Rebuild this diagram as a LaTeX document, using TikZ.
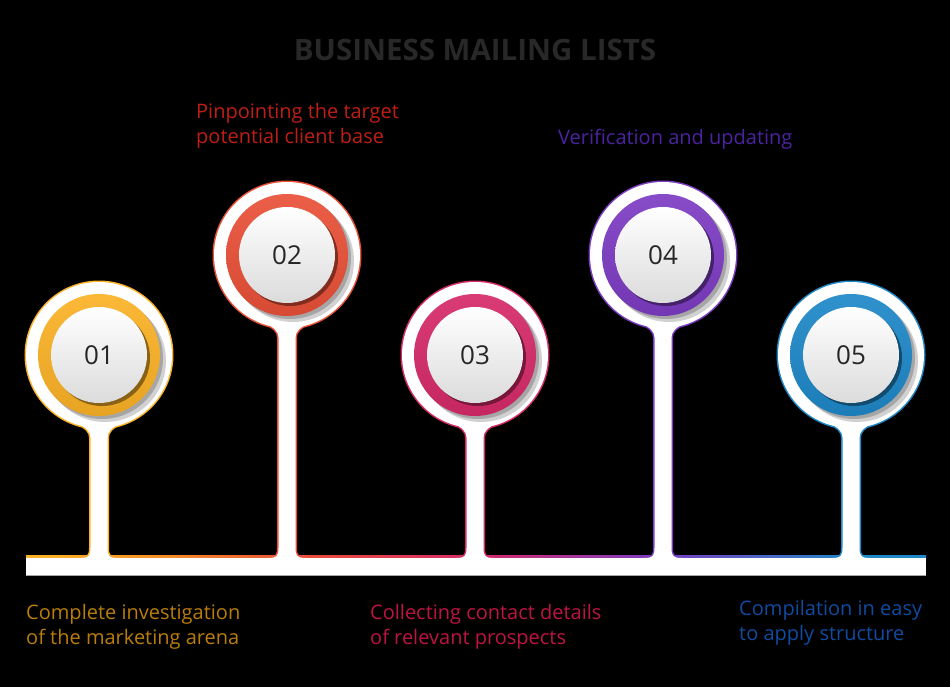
\documentclass[tikz,border=0pt]{standalone}
\usepackage{fontspec}
\setmainfont{Open Sans}
\usepackage{tikz}
\usetikzlibrary{positioning}

\definecolor{stepone}{RGB}{251,178,38}
\definecolor{steponeb}{RGB}{246,140,40}
\definecolor{steptwo}{RGB}{233,80,55}
\definecolor{stepthree}{RGB}{214,42,105}
\definecolor{stepfour}{RGB}{125,60,195}
\definecolor{stepfive}{RGB}{30,136,200}
\definecolor{txtone}{RGB}{185,125,10}
\definecolor{txttwo}{RGB}{190,30,20}
\definecolor{txtthree}{RGB}{190,20,65}
\definecolor{txtfour}{RGB}{75,35,160}
\definecolor{txtfive}{RGB}{15,75,160}
\definecolor{titlegray}{RGB}{40,40,40}

\pgfdeclarehorizontalshading{railshade}{100bp}{color(0bp)=(stepone); color(26bp)=(stepone); color(33bp)=(steponeb); color(40bp)=(steptwo); color(50bp)=(stepthree); color(60bp)=(stepfour); color(71bp)=(stepfive); color(100bp)=(stepfive)}

\tikzset{
  rim/.style={line width=3pt},
  numtext/.style={font=\fontsize{26}{30}\selectfont, text=black!85},
  labeltext/.style={font=\fontsize{20}{25}\selectfont, align=left, inner sep=0pt, anchor=west},
}

\newcommand{\railstem}[2]{({#1-18.5},558) .. controls ({#1-10.5},558) and ({#1-8.5},556) .. ({#1-8.5},548) -- ({#1-8.5},{#2+82.5}) .. controls ({#1-8.5},{#2+76.5}) and ({#1-13},{#2+72.5}) .. ({#1-22},{#2+68}) -- ({#1+22},{#2+68}) .. controls ({#1+13},{#2+72.5}) and ({#1+8.5},{#2+76.5}) .. ({#1+8.5},{#2+82.5}) -- ({#1+8.5},548) .. controls ({#1+8.5},556) and ({#1+10.5},558) .. ({#1+18.5},558) -- ({#1+18.5},564) -- ({#1-18.5},564) -- cycle}

\begin{document}
\begin{tikzpicture}[x=1pt,y=-1pt]
  \useasboundingbox (0,0) rectangle (950,687);
  \fill[black] (0,0) rectangle (950,687);

  \foreach \cx/\cy/\col in {99/355/stepone,287/255/steptwo,475/355/stepthree,663/255/stepfour,851/355/stepfive}{
    \draw[rim, \col] (\cx,\cy) circle[radius=73pt];
    \draw[rim, \col] \railstem{\cx}{\cy};
  }
  \shade[shading=railshade] (26,555.5) rectangle (926,560);
  \foreach \cx/\cy in {99/355,287/255,475/355,663/255,851/355}{
    \fill[white] (\cx,\cy) circle[radius=73pt];
    \fill[white] \railstem{\cx}{\cy};
  }
  \fill[white] (26,558) rectangle (926,575);
  \draw[gray!70, line width=1pt] (26,575) -- (926,575);

  \foreach \cx/\cy/\col/\num in {99/355/stepone/01,287/255/steptwo/02,475/355/stepthree/03,663/255/stepfour/04,851/355/stepfive/05}{
    \fill[black!18] ({\cx+6},{\cy+6}) circle[radius=61pt];
    \fill[black!35] ({\cx+3},{\cy+3}) circle[radius=61pt];
    \shade[top color=\col!92!white, bottom color=\col!92!black] (\cx,\cy) circle[radius=61pt];
    \fill[\col!55!black] ({\cx+3},{\cy+3}) circle[radius=48pt];
    \shade[top color=white, bottom color=black!14] (\cx,\cy) circle[radius=48pt];
    \node[numtext] (n\num) at (\cx,\cy) {\num};
  }

  \node[font=\bfseries\fontsize{29.5}{34}\selectfont, text=titlegray] (title) at (475,50) {BUSINESS MAILING LISTS};

  \node[labeltext, text=txttwo] (lab02) at (196,126) {Pinpointing the target\\potential client base};
  \node[labeltext, text=txtfour] (lab04) at (558,139) {Verification and updating};
  \node[labeltext, text=txtone] (lab01) at (26,627) {Complete investigation\\of the marketing arena};
  \node[labeltext, text=txtthree] (lab03) at (370,627) {Collecting contact details\\of relevant prospects};
  \node[labeltext, text=txtfive] (lab05) at (739,623) {Compilation in easy\\to apply structure};
\end{tikzpicture}
\end{document}
